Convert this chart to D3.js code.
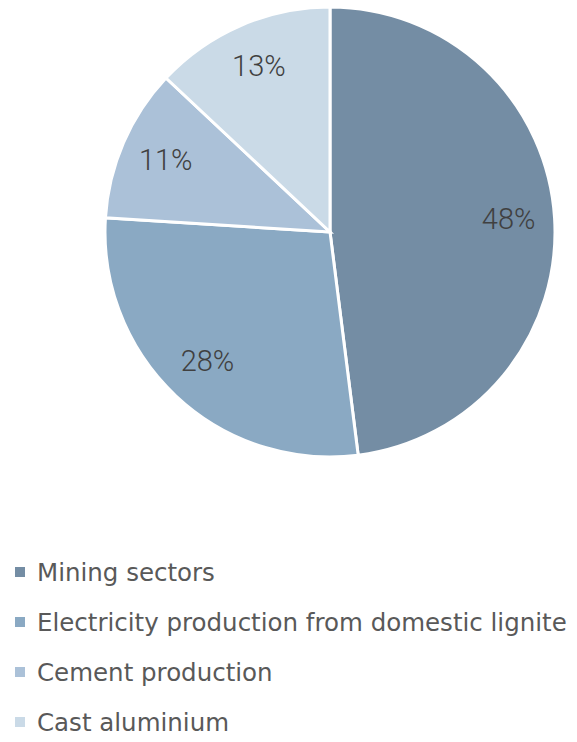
<!DOCTYPE html>
<html lang="en">
<head>
  <meta charset="UTF-8">
  <title>Pie chart</title>
  <style>
    body { margin: 0; background: #fff; }
    text { font-variant-ligatures: none; }
  </style>
</head>
<body>
<script src="https://d3js.org/d3.v7.min.js"></script>
<div id="chart"></div>
<script>
  // DATA ====================================================================
  const categories = ["Mining sectors", "Electricity production from domestic lignite", "Cement production", "Cast aluminium"];
  const shares = [48, 28, 11, 13];
  const colors = ["#748da4", "#8aa9c3", "#abc1d8", "#cadae7"];

  // PLOT AREA ===============================================================
  const width = 577, height = 742;
  const cx = 330, cy = 232, radius = 225;

  const svg = d3.select("#chart")
    .append("svg")
      .attr("width", width)
      .attr("height", height);

  const data = categories.map((c, i) => ({ name: c, value: shares[i], color: colors[i] }));

  const pie = d3.pie().sort(null).value(d => d.value);
  const arc = d3.arc().innerRadius(0).outerRadius(radius);
  const labelArc = d3.arc().innerRadius(179).outerRadius(179);

  const g = svg.append("g").attr("transform", `translate(${cx},${cy})`);

  g.selectAll("path")
    .data(pie(data))
    .join("path")
      .attr("d", arc)
      .attr("fill", d => d.data.color)
      .attr("stroke", "#fff")
      .attr("stroke-width", 3);

  g.selectAll("text")
    .data(pie(data))
    .join("text")
      .attr("transform", d => `translate(${labelArc.centroid(d)})`)
      .attr("text-anchor", "middle")
      .attr("dy", "0.3em")
      .attr("font-family", "Roboto, sans-serif")
      .attr("font-weight", 300)
      .attr("font-size", 29)
      .attr("fill", "#404040")
      .text(d => d.data.value + "%");

  // LEGEND ==================================================================
  const legend = svg.append("g").attr("transform", "translate(15,572)");
  const rows = legend.selectAll("g")
    .data(data)
    .join("g")
      .attr("transform", (d, i) => `translate(0,${i * 50})`);

  rows.append("rect")
    .attr("x", 0).attr("y", -5)
    .attr("width", 10).attr("height", 10)
    .attr("fill", d => d.color);

  rows.append("text")
    .attr("x", 22)
    .attr("dy", "0.35em")
    .attr("font-family", "'DejaVu Sans', sans-serif")
    .attr("font-size", 24.5)
    .attr("fill", "#595959")
    .text(d => d.name);
</script>
</body>
</html>
